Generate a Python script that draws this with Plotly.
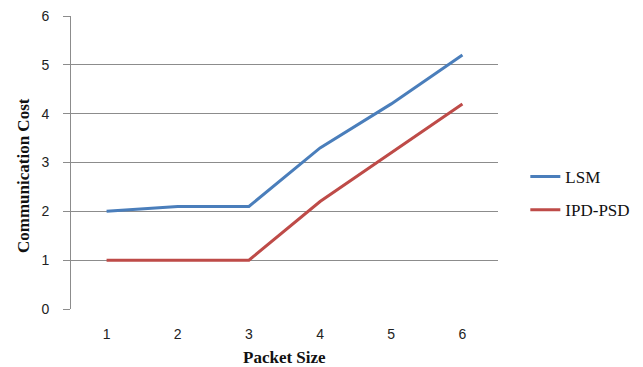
import plotly.graph_objects as go

packet_size = [1, 2, 3, 4, 5, 6]
lsm_cost = [2.0, 2.1, 2.1, 3.3, 4.2, 5.2]
ipd_psd_cost = [1.0, 1.0, 1.0, 2.2, 3.2, 4.2]
y_ticks = [0, 1, 2, 3, 4, 5, 6]

grid_gray = "#8c8c8c"
serif = "Liberation Serif"
sans = "Liberation Sans"

fig = go.Figure()
fig.add_trace(go.Scatter(
    x=packet_size, y=lsm_cost, mode="lines", name="LSM",
    legendgroup="lsm",
    line=dict(color="#4A7EBB", width=3),
))
fig.add_trace(go.Scatter(
    x=packet_size, y=ipd_psd_cost, mode="lines", name="IPD-PSD",
    legendgroup="ipd",
    line=dict(color="#BE4B48", width=3),
))

fig.update_layout(
    width=643, height=367,
    margin=dict(l=71, r=145, t=16, b=58, autoexpand=False),
    paper_bgcolor="white", plot_bgcolor="white",
    showlegend=True,
    legend=dict(
        x=1.064, y=0.394, xanchor="left", yanchor="middle",
        font=dict(family=serif, size=17, color="#111"),
        tracegroupgap=8, itemwidth=30,
        bgcolor="rgba(0,0,0,0)",
    ),
    xaxis=dict(
        range=[0.5, 6.5], tickvals=packet_size,
        ticktext=[str(v) for v in packet_size],
        showgrid=False, zeroline=False,
        showline=False, ticks="",
        tickfont=dict(family=sans, size=14, color="#222"),
        ticklabelstandoff=15,
    ),
    yaxis=dict(
        range=[0, 6], tickvals=y_ticks,
        showgrid=True, gridcolor=grid_gray, gridwidth=1,
        zeroline=False,
        showline=True, linecolor=grid_gray, linewidth=1,
        ticks="outside", ticklen=7, tickcolor=grid_gray,
        tickfont=dict(family=sans, size=14, color="#222"),
        ticklabelstandoff=11,
    ),
    annotations=[
        dict(
            text="<b>Communication Cost</b>", textangle=-90,
            xref="paper", yref="paper", x=-0.111, y=0.456,
            xanchor="center", yanchor="middle", showarrow=False,
            font=dict(family=serif, size=17, color="#111"),
        ),
        dict(
            text="<b>Packet Size</b>",
            xref="paper", yref="paper", x=0.499, y=-0.167,
            xanchor="center", yanchor="middle", showarrow=False,
            font=dict(family=serif, size=17, color="#111"),
        ),
    ],
)

fig.write_html("out.html")
